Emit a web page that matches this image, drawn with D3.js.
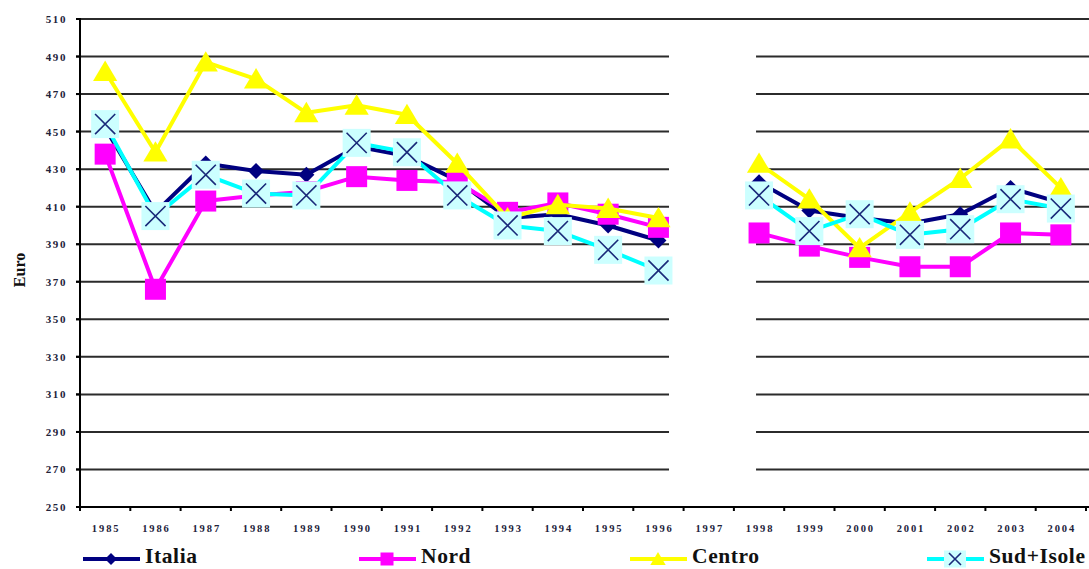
<!DOCTYPE html>
<html>
<head>
<meta charset="utf-8">
<script src="https://cdn.jsdelivr.net/npm/d3@7"></script>
<style>
  html, body { margin: 0; padding: 0; background: #fff; }
  svg { display: block; }
  .tick-label { font-family: "Liberation Serif", "Times New Roman", serif; font-weight: bold; fill: #22223a; }
  .legend-label { font-family: "Liberation Serif", "Times New Roman", serif; font-weight: bold; fill: #111; font-size: 21.5px; }
</style>
</head>
<body>
<svg id="chart" width="1089" height="569"></svg>
<script>
// Years on the category axis (1997 has no data)
const years = ["1985","1986","1987","1988","1989","1990","1991","1992","1993","1994",
               "1995","1996","1997","1998","1999","2000","2001","2002","2003","2004"];

// Values in euro per area
const italia = [452, 407, 433, 429, 427, 442, 437, 424, 404, 406, 400, 392, null, 423, 408, 404, 401, 406, 420, 412];
const nord   = [438, 366, 413, 416, 418, 426, 424, 423, 407, 412, 406, 399, null, 396, 389, 383, 378, 378, 396, 395];
const centro = [482, 439, 487, 478, 460, 464, 459, 433, 404, 411, 409, 404, null, 433, 414, 388, 407, 425, 446, 420];
const sud    = [454, 405, 427, 417, 416, 444, 439, 416, 400, 397, 387, 376, null, 416, 397, 406, 395, 398, 414, 409];

const seriesNames = ["Italia", "Nord", "Centro", "Sud+Isole"];
const yTicks = [250, 270, 290, 310, 330, 350, 370, 390, 410, 430, 450, 470, 490, 510];

const W = 1089, H = 569;
const svg = d3.select("#chart");

const x = d3.scaleBand().domain(years).range([80, 1086]).padding(0);
const y = d3.scaleLinear().domain([250, 510]).range([507, 19]);
const bw = x.bandwidth();
const cx = d => x(d) + bw / 2;

// Horizontal gridlines
svg.append("g").selectAll("line")
  .data(yTicks.filter(t => t > 250))
  .join("line")
  .attr("x1", 76).attr("x2", W)
  .attr("y1", d => y(d)).attr("y2", d => y(d))
  .attr("stroke", "#2b2b2b").attr("stroke-width", 2);

// Gridlines are interrupted across the missing 1997 column
svg.append("rect")
  .attr("x", x("1996") + bw * 0.71)
  .attr("width", (x("1998") + bw * 0.44) - (x("1996") + bw * 0.71))
  .attr("y", y(490) - 3)
  .attr("height", y(270) - y(490) + 6)
  .attr("fill", "#fff");

// Y axis
svg.append("line").attr("x1", 80).attr("x2", 80).attr("y1", y(510) - 1).attr("y2", y(250) + 1)
  .attr("stroke", "#000").attr("stroke-width", 2);
svg.append("g").selectAll("line").data(yTicks).join("line")
  .attr("x1", 76).attr("x2", 80).attr("y1", d => y(d)).attr("y2", d => y(d))
  .attr("stroke", "#000").attr("stroke-width", 2);
svg.append("g").selectAll("text").data(yTicks).join("text")
  .attr("class", "tick-label")
  .attr("x", 67).attr("y", d => y(d) + 4)
  .attr("text-anchor", "end")
  .style("font-size", "11px").style("letter-spacing", "1.6px")
  .text(d => d);

// X axis
svg.append("line").attr("x1", 79).attr("x2", W).attr("y1", y(250)).attr("y2", y(250))
  .attr("stroke", "#000").attr("stroke-width", 2);
svg.append("g").selectAll("line").data(years.concat(["end"])).join("line")
  .attr("x1", (d, i) => 80 + i * bw).attr("x2", (d, i) => 80 + i * bw)
  .attr("y1", y(250)).attr("y2", y(250) + 4)
  .attr("stroke", "#000").attr("stroke-width", 2);
svg.append("g").selectAll("text").data(years).join("text")
  .attr("class", "tick-label")
  .attr("x", d => cx(d) + 1).attr("y", 532)
  .attr("text-anchor", "middle")
  .style("font-size", "10.5px").style("letter-spacing", "1.9px")
  .text(d => d);

// Y axis title
svg.append("text")
  .attr("transform", "translate(25,270) rotate(-90)")
  .attr("text-anchor", "middle")
  .style("font-family", "'Liberation Serif', 'Times New Roman', serif")
  .style("font-weight", "bold").style("font-size", "16px").attr("fill", "#111")
  .text("Euro");

// Marker drawing helpers
function diamond(g, px, py, s, color) {
  g.append("path")
    .attr("d", `M${px},${py - s}L${px + s},${py}L${px},${py + s}L${px - s},${py}Z`)
    .attr("fill", color);
}
function square(g, px, py, s, color) {
  g.append("rect").attr("x", px - s).attr("y", py - s).attr("width", 2 * s).attr("height", 2 * s)
    .attr("fill", color);
}
function triangle(g, px, py, s, color) {
  g.append("path")
    .attr("d", `M${px},${py - s}L${px + s * 1.1},${py + s * 0.85}L${px - s * 1.1},${py + s * 0.85}Z`)
    .attr("fill", color);
}
function crossBox(g, px, py, s, boxColor, xColor) {
  g.append("rect").attr("x", px - s).attr("y", py - s).attr("width", 2 * s).attr("height", 2 * s)
    .attr("fill", boxColor);
  const k = s * 0.72;
  g.append("path")
    .attr("d", `M${px - k},${py - k}L${px + k},${py + k}M${px + k},${py - k}L${px - k},${py + k}`)
    .attr("stroke", xColor).attr("stroke-width", 1.6).attr("fill", "none");
}

const series = [
  { name: seriesNames[0], values: italia, line: "#000080", marker: (g, px, py) => diamond(g, px, py, 8, "#000080") },
  { name: seriesNames[1], values: nord,   line: "#ff00ff", marker: (g, px, py) => square(g, px, py, 10.5, "#ff00ff") },
  { name: seriesNames[2], values: centro, line: "#ffff00", marker: (g, px, py) => triangle(g, px, py, 11, "#ffff00") },
  { name: seriesNames[3], values: sud,    line: "#00ffff", marker: (g, px, py) => crossBox(g, px, py, 14, "#ccffff", "#1a2a7a") }
];

const lineGen = d3.line()
  .defined(d => d.v !== null)
  .x(d => cx(d.year))
  .y(d => y(d.v));

series.forEach(s => {
  const pts = years.map((yr, i) => ({ year: yr, v: s.values[i] }));
  const g = svg.append("g");
  g.append("path").datum(pts)
    .attr("d", lineGen)
    .attr("fill", "none").attr("stroke", s.line).attr("stroke-width", 4)
    .attr("stroke-linejoin", "round");
  pts.filter(p => p.v !== null).forEach(p => s.marker(g, cx(p.year), y(p.v)));
});

// Legend
const legendX = [83, 359, 630, 927];
const legendMarkers = [
  (g, px, py) => diamond(g, px, py, 6, "#000080"),
  (g, px, py) => square(g, px, py, 6.5, "#ff00ff"),
  (g, px, py) => triangle(g, px, py, 7, "#ffff00"),
  (g, px, py) => {
    g.append("rect").attr("x", px - 11).attr("y", py - 8.5).attr("width", 22).attr("height", 17).attr("fill", "#ccffff");
    g.append("path").attr("d", `M${px - 6},${py - 6}L${px + 6},${py + 6}M${px + 6},${py - 6}L${px - 6},${py + 6}`)
      .attr("stroke", "#1a2a7a").attr("stroke-width", 1.6);
  }
];
series.forEach((s, i) => {
  const g = svg.append("g");
  const x0 = legendX[i], ly = 559;
  g.append("line").attr("x1", x0).attr("x2", x0 + 57).attr("y1", ly).attr("y2", ly)
    .attr("stroke", s.line).attr("stroke-width", 4);
  legendMarkers[i](g, x0 + 28, ly);
  g.append("text").attr("class", "legend-label")
    .attr("x", x0 + 62).attr("y", 563)
    .style("letter-spacing", "0.6px")
    .text(s.name);
});
</script>
</body>
</html>
